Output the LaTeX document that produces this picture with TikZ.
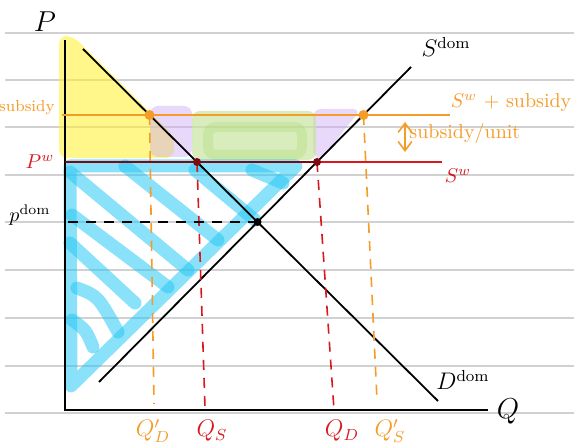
\documentclass[tikz,border=0pt]{standalone}
\usepackage{amsmath}
\usepackage{tikz}
\usetikzlibrary{arrows.meta,positioning,calc}

\definecolor{hlblue}{RGB}{40,200,245}
\definecolor{hlyellow}{RGB}{255,240,40}
\definecolor{hlpurple}{RGB}{205,170,245}
\definecolor{hlgreen}{RGB}{200,228,160}
\definecolor{hlgreendk}{RGB}{170,215,110}
\definecolor{subor}{RGB}{245,155,40}
\definecolor{pwred}{RGB}{215,25,30}
\definecolor{pwdark}{RGB}{125,10,15}

\begin{document}
\begin{tikzpicture}[
      x=0.5pt, y=-0.5pt,
      rule/.style={black!18, line width=0.7pt},
      curve/.style={black, line width=0.9pt},
      hl/.style={line width=6.5pt, line cap=round, line join=round, opacity=0.55},
      guide/.style={line width=0.8pt, dash pattern=on 5pt off 4pt},
      dot/.style={circle, fill, inner sep=0pt, minimum size=#1},
      lab/.style={inner sep=1pt},
      >={Straight Barb[length=1.6mm, width=2.4mm]}
    ]
    \clip (0,0) rectangle (574,448);

    % notebook lines
    \foreach \y in {33,80,127,175,222,270,318,366,413}
      \draw[rule] (5,\y) -- (574,\y);

    % points of the diagram
    \coordinate (O) at (65,410);
    \coordinate (ptop) at (65,40);
    \coordinate (qend) at (488,410);
    \coordinate (dA) at (83,49);
    \coordinate (dB) at (438,401);
    \coordinate (sA) at (99,382);
    \coordinate (sB) at (411,67);
    \coordinate (E) at (257.5,222);
    \coordinate (pdomL) at (68,222);
    \coordinate (subL) at (62,115);
    \coordinate (subR) at (450,115);
    \coordinate (pwL) at (65,162);
    \coordinate (pwR) at (442,162);
    \coordinate (oD) at (149.5,115);
    \coordinate (oS) at (363.5,115);
    \coordinate (rD) at (197,162);
    \coordinate (rS) at (317,162);

    % highlighter areas
    \fill[hlyellow, opacity=0.55, rounded corners=4pt]
      (59,36) -- (73,36) -- (174,136) -- (174,158) -- (59,158) -- cycle;
    \fill[hlpurple, opacity=0.45, rounded corners=4pt]
      (150,106) rectangle (192,157);
    \fill[hlpurple, opacity=0.45, rounded corners=4pt]
      (313,109) -- (361,109) -- (322,158) -- (313,158) -- cycle;
    \fill[hlgreen, opacity=0.7, rounded corners=4pt]
      (192,111) rectangle (316,160);
    \draw[hlgreendk, opacity=0.3, line width=5pt, rounded corners=4pt]
      (208,127) rectangle (302,155);

    \draw[hlblue, hl] (70,166) -- (296,166) -- (71,386) -- cycle;
    \draw[hlblue, hl] (70,172) -- (188,270);
    \draw[hlblue, hl] (125,166) -- (218,240);
    \draw[hlblue, hl] (72,215) -- (168,287);
    \draw[hlblue, hl] (70,243) -- (135,303);
    \draw[hlblue, hl] (77,288) .. controls (98,296) .. (118,332);
    \draw[hlblue, hl] (72,320) .. controls (86,330) .. (93,347);
    \draw[hlblue, hl] (195,170) -- (255,220);
    \draw[hlblue, hl] (252,170) -- (283,183);

    % axes
    \draw[curve] (ptop) -- (O) -- (qend);
    \node[lab, font=\Large] (plab) at (45,22) {$P$};
    \node[lab, font=\Large] (qlab) at (508,411) {$Q$};

    % price lines
    \draw[subor, line width=0.8pt] (subL) -- (subR);
    \draw[pwdark, line width=0.8pt] (pwL) -- (rS);
    \draw[pwred, line width=0.8pt] (rS) -- (pwR);

    % demand and supply
    \draw[curve] (dA) -- (dB);
    \draw[curve] (sA) -- (sB);
    \node[lab, font=\large] (sdom) at (446,47) {$S^{\mathrm{dom}}$};
    \node[lab, font=\large] (ddom) at (463,380) {$D^{\mathrm{dom}}$};

    % guide lines
    \node[lab, font=\large, text=subor] (qd1) at (153,431) {$Q'_D$};
    \node[lab, font=\large, text=pwred] (qs) at (212,431) {$Q_S$};
    \node[lab, font=\large, text=pwred] (qd) at (342,431) {$Q_D$};
    \node[lab, font=\large, text=subor] (qs1) at (390,431) {$Q'_S$};
    \draw[guide, subor] (oD) -- (154,404);
    \draw[guide, pwred] (rD) -- (205,408);
    \draw[guide, pwred] (rS) -- (334,410);
    \draw[guide, subor] (oS) -- (377,400);
    \draw[guide, black] (pdomL) -- (E);

    % dots
    \node[dot=5pt, subor] at (oD) {};
    \node[dot=5pt, subor] at (oS) {};
    \node[dot=4pt, pwdark] at (rD) {};
    \node[dot=4pt, pwdark] at (rS) {};
    \node[dot=4pt, black] at (E) {};

    % labels
    \node[lab, text=subor, font=\footnotesize, anchor=east] (pwsub) at (57,108) {subsidy};
    \node[lab, text=pwred] (pwlab) at (40,162) {$P^{w}$};
    \node[lab] (pdom) at (30,215) {$p^{\mathrm{dom}}$};
    \node[lab, text=subor] (swsub) at (511,103) {$S^{w}$ + subsidy};
    \node[lab, text=pwred] (swlab) at (458,176) {$S^{w}$};
    \coordinate (uTop) at (405,122);
    \coordinate (uBot) at (405,152);
    \draw[subor, line width=0.8pt, <->] (uTop) -- (uBot);
    \node[lab, text=subor, right=1pt of $(uTop)!0.4!(uBot)$] (unit) {subsidy/unit};
  \end{tikzpicture}
\end{document}
